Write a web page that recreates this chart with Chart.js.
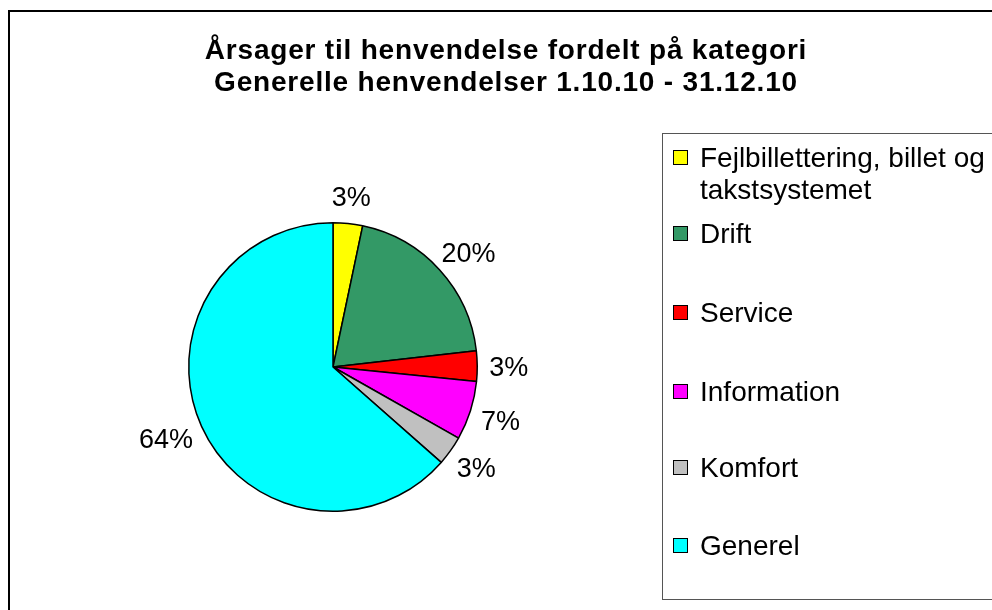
<!DOCTYPE html>
<html>
<head>
<meta charset="utf-8">
<script src="https://cdn.jsdelivr.net/npm/chart.js@4.4.1/dist/chart.umd.min.js"></script>
<style>
  html, body { margin: 0; padding: 0; background: #fff; }
  body { width: 992px; height: 610px; position: relative; overflow: hidden; font-family: "Liberation Sans", Arial, sans-serif; }
  #frame { position: absolute; left: 8px; top: 10px; width: 1200px; height: 800px; border: 2px solid #000; box-sizing: border-box; }
  #chart { position: absolute; left: 0; top: 0; }
  #title { position: absolute; left: 0; top: 34px; width: 1012px; text-align: center; font-weight: bold; font-size: 28px; letter-spacing: 0.8px; line-height: 32px; color: #000; }
  #legend { position: absolute; left: 662px; top: 133px; width: 400px; height: 467px; border: 1px solid #555; box-sizing: border-box; }
  .item { position: absolute; left: 10px; width: 320px; font-size: 28px; line-height: 32px; color: #000; }
  .sw { position: absolute; left: 0; top: 8px; width: 13px; height: 13px; border: 1.5px solid #000; }
  .txt { position: absolute; left: 27px; width: 300px; }
</style>
</head>
<body>
<div id="frame"></div>
<canvas id="chart" width="992" height="610"></canvas>
<div id="title">Årsager til henvendelse fordelt på kategori<br>Generelle henvendelser 1.10.10 - 31.12.10</div>
<div id="legend"></div>
<script>
const categories = ['Fejlbillettering, billet og takstsystemet', 'Drift', 'Service', 'Information', 'Komfort', 'Generel'];
const shares = [3.3, 19.9, 3.4, 6.6, 3.3, 63.5];
const shareLabels = ['3%', '20%', '3%', '7%', '3%', '64%'];
const colors = ['#FFFF00', '#339966', '#FF0000', '#FF00FF', '#C0C0C0', '#00FFFF'];

// legend (html, built from the arrays)
const legend = document.getElementById('legend');
const itemTops = [8, 84, 163, 242, 318, 396];
categories.forEach((c, i) => {
  const el = document.createElement('div');
  el.className = 'item';
  el.style.top = itemTops[i] + 'px';
  el.innerHTML = '<div class="sw" style="background:' + colors[i] + '"></div><div class="txt">' + c + '</div>';
  legend.appendChild(el);
});

// percent labels outside the slices
const outsideLabels = {
  id: 'outsideLabels',
  afterDatasetsDraw(chart) {
    const ctx = chart.ctx;
    const arcs = chart.getDatasetMeta(0).data;
    ctx.save();
    ctx.font = '27px "Liberation Sans", Arial, sans-serif';
    ctx.fillStyle = '#000';
    ctx.textAlign = 'center';
    ctx.textBaseline = 'middle';
    arcs.forEach((arc, i) => {
      const { x, y, startAngle, endAngle, outerRadius } = arc.getProps(['x', 'y', 'startAngle', 'endAngle', 'outerRadius'], true);
      const mid = (startAngle + endAngle) / 2;
      const dx = Math.cos(mid), dy = Math.sin(mid);
      const w = ctx.measureText(shareLabels[i]).width;
      const h = 32;
      const ax = x + (outerRadius + 12) * dx + dx * w / 2;
      const ay = y + (outerRadius + 12) * dy + dy * h / 2 + 3;
      ctx.fillText(shareLabels[i], ax, ay);
    });
    ctx.restore();
  }
};

new Chart(document.getElementById('chart'), {
  type: 'pie',
  data: {
    labels: categories,
    datasets: [{
      data: shares,
      backgroundColor: colors,
      borderColor: '#000',
      borderWidth: 1.5,
      hoverOffset: 0
    }]
  },
  options: {
    responsive: false,
    animation: false,
    layout: { padding: { left: 188, top: 222, right: 514, bottom: 98 } },
    plugins: {
      legend: { display: false },
      title: { display: false },
      tooltip: { enabled: false }
    }
  },
  plugins: [outsideLabels]
});
</script>
</body>
</html>
